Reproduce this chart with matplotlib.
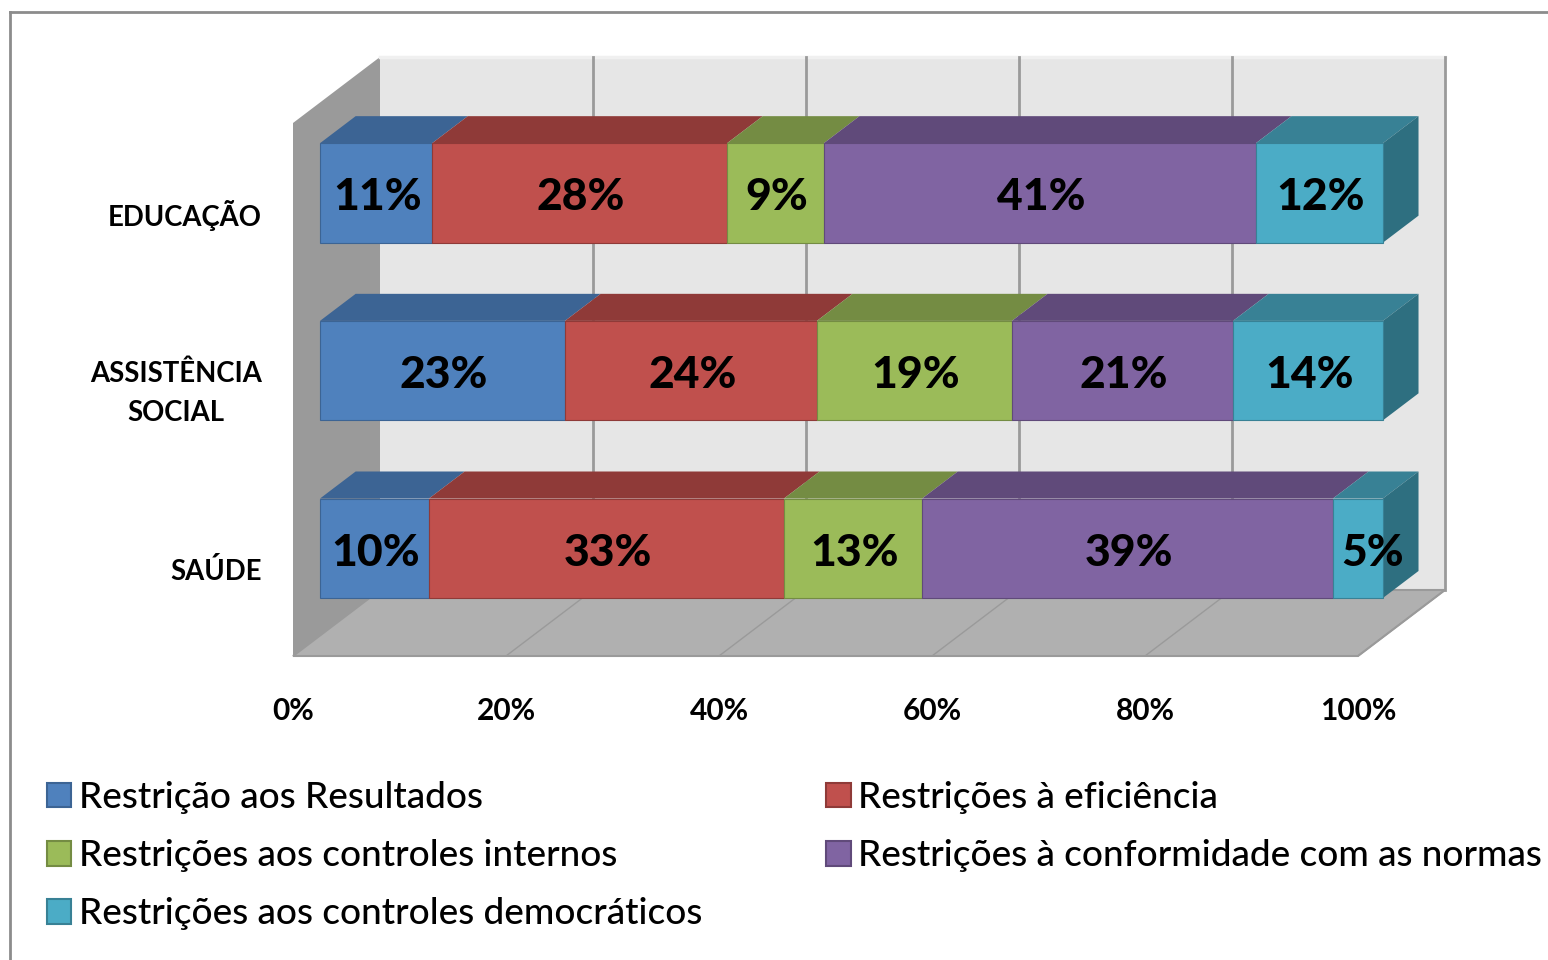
# -*- coding: utf-8 -*-
"""
Stacked 100% bars with the old spreadsheet 3D look, drawn by hand on a flat axes
"""
import matplotlib
matplotlib.use('Agg')
import matplotlib.pyplot as plt
from matplotlib.lines import Line2D
from matplotlib.patches import Patch, Polygon
from matplotlib.transforms import ScaledTranslation
import numpy as np

plt.rcParams['font.family'] = ['Lato', 'DejaVu Sans']

categories = ["SAÚDE", "ASSISTÊNCIA\nSOCIAL", "EDUCAÇÃO"]
series_names = ["Restrição aos Resultados", "Restrições à eficiência",
                "Restrições aos controles internos",
                "Restrições à conformidade com as normas",
                "Restrições aos controles democráticos"]
# printed labels (they are rounded, the rows add up to 101 sometimes)
resultados = [10, 23, 11]
eficiencia = [33, 24, 28]
internos = [13, 19, 9]
conformidade = [39, 21, 41]
democraticos = [5, 14, 12]
# widths
resultados_w = [10.25, 23.05, 10.55]
eficiencia_w = [33.4, 23.7, 27.75]
internos_w = [13.0, 18.35, 9.1]
conformidade_w = [38.65, 20.8, 40.65]
democraticos_w = [4.7, 14.1, 11.95]
x_ticks = [0, 20, 40, 60, 80, 100]

front_colors = ["#4f81bd", "#c0504d", "#9bbb59", "#8064a2", "#4bacc6"]
top_colors = ["#3c6494", "#8f3a38", "#748c43", "#604a7a", "#388195"]
side_color = "#2e6f80"

W, H = 1548, 960
fig = plt.figure(figsize=(W / 100, H / 100), dpi=100)
# the axes is the front plane of the chart box
ax = fig.add_axes([293 / W, 1 - 656 / H, (1358 - 293) / W, (656 - 123) / H])
ax.set_xlim(0, 100)
ax.set_ylim(0, 3)

# how far the box goes backwards, in data units
DX = 87 / (1065 / 100)
DY = 66 / (533 / 3)


def proj(x, y, d):
    return (x + DX * d, y + DY * d)


# walls and floor
ax.add_patch(Polygon([proj(0, 0, 1), proj(100, 0, 1), proj(100, 3, 1), proj(0, 3, 1)],
                     color="#e6e6e6", zorder=1, clip_on=False, lw=0))
ax.add_patch(Polygon([proj(0, 0, 0), proj(0, 0, 1), proj(0, 3, 1), proj(0, 3, 0)],
                     color="#9a9a9a", zorder=1, clip_on=False, lw=0))
ax.add_patch(Polygon([proj(0, 0, 0), proj(100, 0, 0), proj(100, 0, 1), proj(0, 0, 1)],
                     facecolor="#b0b0b0", edgecolor="#9a9a9a", lw=1.5, zorder=1, clip_on=False))
ax.plot(*zip(proj(0, 3, 1), proj(100, 3, 1)), color="#f0f0f0", lw=2.5, zorder=2, clip_on=False)
for tick in x_ticks[1:]:
    ax.plot(*zip(proj(tick, 0, 1), proj(tick, 3, 1)), color="#9a9a9a", lw=2, zorder=2, clip_on=False)
    ax.plot(*zip(proj(tick, 0, 0), proj(tick, 0, 1)), color="#9a9a9a", lw=1, zorder=2, clip_on=False)

# bars
bar_end = 99.8  # the stack stops a little short of the full box width
labels = np.array([resultados, eficiencia, internos, conformidade, democraticos])
shares = np.array([resultados_w, eficiencia_w, internos_w, conformidade_w, democraticos_w])
shares = shares / shares.sum(axis=0) * bar_end
lefts = np.vstack([np.zeros(3), np.cumsum(shares, axis=0)[:-1]])
d0, d1 = 0.31, 0.72
half = 0.28
drop = 0.009  # bars sit a bit lower than the band centre

for r in range(3):
    yc = r + 0.5 - drop
    for s in range(5):
        left, width = lefts[s, r], shares[s, r]
        x1, y1 = proj(left, yc - half, d0)
        ax.barh(y1 + half, width, height=2 * half, left=x1, color=front_colors[s],
                edgecolor=top_colors[s], linewidth=0.8, zorder=4, clip_on=False)
        ax.add_patch(Polygon([proj(left, yc + half, d0), proj(left + width, yc + half, d0),
                              proj(left + width, yc + half, d1), proj(left, yc + half, d1)],
                             color=top_colors[s], lw=0, zorder=3, clip_on=False))
        # the 5% label does not fit in its box and sits further right
        nudge = 1.4 if labels[s, r] == 5 else 0.15
        ax.text(x1 + width / 2 + nudge, y1 + half - 0.025, "%d%%" % labels[s, r], ha="center", va="center",
                fontsize=32, fontweight="black", color="black", zorder=6, clip_on=False)
    ax.add_patch(Polygon([proj(bar_end, yc - half, d0), proj(bar_end, yc + half, d0),
                          proj(bar_end, yc + half, d1), proj(bar_end, yc - half, d1)],
                         color=side_color, lw=0, zorder=3, clip_on=False))

ax.set_xticks(x_ticks)
ax.set_xticklabels(["%d%%" % t for t in x_ticks], fontsize=21.5, fontweight="bold")
ax.set_yticks(np.arange(3) + 0.5)
ax.set_yticklabels(categories, fontsize=19.8, fontweight="bold", multialignment="center",
                   linespacing=1.6, va="center")
ax.tick_params(axis="both", length=0)
ax.tick_params(axis="x", pad=29.5)
ax.tick_params(axis="y", pad=22.5)
# category labels sit a few pixels under the band centre
for label in ax.get_yticklabels():
    label.set_transform(label.get_transform() + ScaledTranslation(0, -4 / 100, fig.dpi_scale_trans))
for spine in ax.spines.values():
    spine.set_visible(False)
ax.patch.set_visible(False)

# outer frame runs off the picture on the right and at the bottom
fig.add_artist(Line2D([10 / W, 10 / W], [0, 1 - 12 / H], color="#8c8c8c", lw=2))
fig.add_artist(Line2D([10 / W, 1], [1 - 12 / H, 1 - 12 / H], color="#8c8c8c", lw=2))

order = [0, 2, 4, 1, 3]
handles = [Patch(facecolor=front_colors[i], edgecolor=top_colors[i], linewidth=1.5) for i in order]
fig.legend(handles, [series_names[i] for i in order], loc="upper left",
           bbox_to_anchor=(47 / W, 1 - 781 / H), ncol=2, frameon=False,
           prop={"size": 26.6, "weight": 500},
           handlelength=0.66, handleheight=0.66, handletextpad=0.2, labelspacing=0.68,
           columnspacing=3.36, borderpad=0, borderaxespad=0)

fig.savefig("out.png", dpi=100)
